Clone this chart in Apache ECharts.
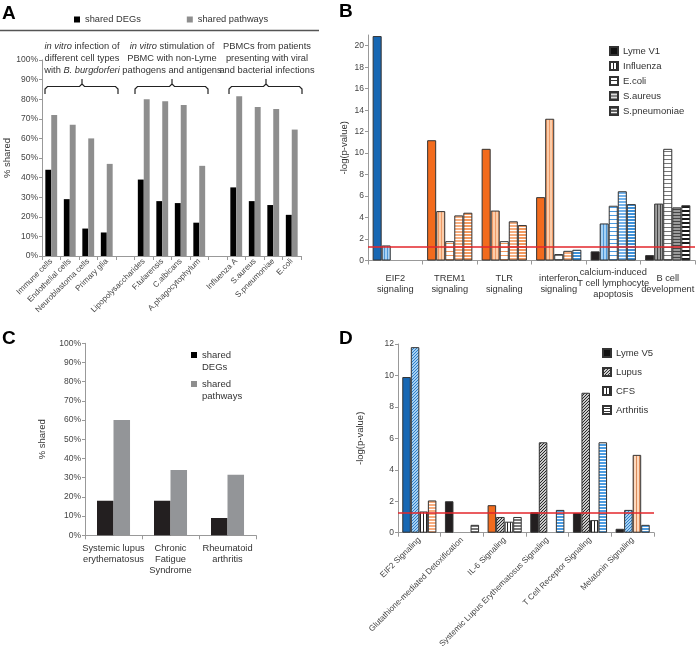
<!DOCTYPE html>
<html><head><meta charset="utf-8">
<script src="https://cdn.jsdelivr.net/npm/echarts@6/dist/echarts.min.js"></script>
<style>html,body{margin:0;padding:0;background:#fff}#c{width:696px;height:650px}</style>
</head><body><div id="c"></div>
<script>
// ---------------- DATA ----------------
// Panel A
const aCategories = ['Immune cells','Endothelial cells','Neuroblastoma cells','Primary glia','',
  'Lipopolysaccharides','F.tularensis','C.albicans','A.phagocytophylum','',
  'Influenza A','S.aureus','S.pneumoniae','E.coli'];
const aSharedDEGs     = [44, 29, 14, 12, null, 39, 28, 27, 17, null, 35, 28, 26, 21];
const aSharedPathways = [72, 67, 60, 47, null, 80, 79, 77, 46, null, 81.5, 76, 75, 64.5];

// Panel B
const bCategories = ['EIF2\nsignaling','TREM1\nsignaling','TLR\nsignaling','interferon\nsignaling',
  'calcium-induced\nT cell lymphocyte\napoptosis','B cell\ndevelopment'];
const bSeriesNames = ['Lyme V1','Influenza','E.coli','S.aureus','S.pneumoniae'];
const bLymeV1      = [20.9, 11.2, 10.4, 5.9, 0.85, 0.5];
const bInfluenza   = [1.4, 4.6, 4.65, 13.2, 3.45, 5.3];
const bEcoli       = [null, 1.8, 1.8, 0.6, 5.1, 10.4];
const bSaureus     = [null, 4.2, 3.65, 0.9, 6.45, 4.95];
const bSpneumoniae = [null, 4.45, 3.3, 1.0, 5.25, 5.15];
// direction of regulation: u = up (orange), d = down (blue), n = none (grey/black)
const bDirLymeV1      = ['d','u','u','u','n','n'];
const bDirInfluenza   = ['d','u','u','u','d','n'];
const bDirEcoli       = ['d','u','u','n','d','n'];
const bDirSaureus     = ['d','u','u','u','d','n'];
const bDirSpneumoniae = ['d','u','u','d','d','n'];
const pThreshold = 1.3;

// Panel C
const cCategories = ['Systemic lupus\nerythematosus','Chronic\nFatigue\nSyndrome','Rheumatoid\narthritis'];
const cSharedDEGs     = [18, 18, 9];
const cSharedPathways = [60, 34, 31.5];

// Panel D
const dCategories = ['EIF2 Signaling','Glutathione-mediated Detoxification','IL-6 Signaling',
  'Systemic Lupus Erythematosus Signaling','T Cell Receptor Signaling','Melatonin Signaling'];
const dSeriesNames = ['Lyme V5','Lupus','CFS','Arthritis'];
const dLymeV5    = [9.9, 2.0, 1.75, 1.3, 1.25, 0.25];
const dLupus     = [11.8, null, 1.0, 5.75, 8.9, 1.45];
const dCFS       = [1.35, null, 0.7, null, 0.8, 4.95];
const dArthritis = [2.05, 0.5, 1.0, 1.45, 5.75, 0.5];
const dDirLymeV5    = ['d','n','u','n','n','n'];
const dDirLupus     = ['d','n','n','n','n','d'];
const dDirCFS       = ['n','n','n','n','n','u'];
const dDirArthritis = ['u','n','n','d','d','d'];

// ---------------- STYLES ----------------
const FONT = 'Liberation Sans, Arial, Helvetica, sans-serif';
function mk(w, h, draw) {
  const c = document.createElement('canvas'); c.width = w; c.height = h;
  draw(c.getContext('2d'));
  return { image: c, repeat: 'repeat' };
}
function vert(bg, line) { return mk(3, 1, g => { g.fillStyle = bg; g.fillRect(0,0,3,1); g.fillStyle = line; g.fillRect(0,0,1,1); }); }
function horiz(bg, line, period, lw) { return mk(1, period, g => { g.fillStyle = bg; g.fillRect(0,0,1,period); g.fillStyle = line; g.fillRect(0,period-lw,1,lw); }); }
function diag(bg, line, n) { return mk(n, n, g => { g.fillStyle = bg; g.fillRect(0,0,n,n); g.fillStyle = line; for (let i=0;i<n;i++) g.fillRect(i,n-1-i,1,1); }); }

const stylesB = {
  'Lyme V1':      { d: '#1767b3', u: '#f26b1d', n: '#231f20' },
  'Influenza':    { d: vert('#a8d2f4','#4f97d6'), u: vert('#fbcdaa','#ee9a66'), n: vert('#a0a0a0','#444') },
  'E.coli':       { d: horiz('#fff','#4a9ae0',4,1), u: horiz('#fff','#f3985e',4,1), n: horiz('#fff','#777',4,1) },
  'S.aureus':     { d: horiz('#74b2ea','#fff',3,1), u: horiz('#f6ae80','#fff',3,1), n: horiz('#9a9a9a','#444',3,1) },
  'S.pneumoniae': { d: horiz('#3f92da','#fff',3,1), u: horiz('#f39a60','#fff',3,1), n: horiz('#fff','#1a1a1a',4,2) }
};
const legendB = {
  'Lyme V1': '#111', 'Influenza': vert('#fff','#222'), 'E.coli': horiz('#fff','#333',4,1),
  'S.aureus': horiz('#888','#ddd',3,1), 'S.pneumoniae': horiz('#666','#eee',3,1)
};
const stylesD = {
  'Lyme V5':   { d: '#1767b3', u: '#f26b1d', n: '#231f20' },
  'Lupus':     { d: diag('#a6d0f2','#2f7fc8',3), u: diag('#fbcdaa','#e07a3a',3), n: diag('#c8c8c8','#2a2a2a',3) },
  'CFS':       { d: vert('#bfe0f8','#4f97d6'), u: vert('#fcd9be','#d98a5a'), n: vert('#fff','#222') },
  'Arthritis': { d: horiz('#4d9de2','#fff',3,1), u: horiz('#f8ad7f','#fff',3,1), n: horiz('#7a7a7a','#fff',3,1) }
};
const legendD = {
  'Lyme V5': '#111', 'Lupus': diag('#ccc','#333',3), 'CFS': vert('#fff','#222'), 'Arthritis': horiz('#fff','#333',3,1)
};

function buildData(values, dirs, styleMap) {
  return values.map((v, i) => v == null ? '-' : { value: v, itemStyle: { color: styleMap[dirs[i]] } });
}

const axisLineGrey = { show: true, lineStyle: { color: '#999', width: 1 } };
const tickGrey = { show: true, length: 4, lineStyle: { color: '#999' } };
const labelBase = { color: '#444', fontFamily: FONT };

function catAxis(grid, data, label) {
  return { type: 'category', gridIndex: grid, data: data, axisLine: axisLineGrey, axisTick: tickGrey,
    axisLabel: Object.assign({ interval: 0 }, labelBase, label), splitLine: { show: false } };
}
function valAxis(grid, min, max, interval, name, nameGap, fmt, extraLabel) {
  return { type: 'value', gridIndex: grid, min, max, interval,
    name, nameLocation: 'middle', nameRotate: 90, nameGap,
    nameTextStyle: { fontSize: 9.5, color: '#333', fontFamily: FONT },
    axisLine: axisLineGrey, axisTick: { show: true, length: 3, lineStyle: { color: '#999' } },
    axisLabel: Object.assign({ fontSize: 8.5, margin: 4, formatter: fmt }, labelBase, extraLabel || {}),
    splitLine: { show: false } };
}

const bValues = [bLymeV1, bInfluenza, bEcoli, bSaureus, bSpneumoniae];
const bDirs = [bDirLymeV1, bDirInfluenza, bDirEcoli, bDirSaureus, bDirSpneumoniae];
const dValues = [dLymeV5, dLupus, dCFS, dArthritis];
const dDirs = [dDirLymeV5, dDirLupus, dDirCFS, dDirArthritis];

const redLine = { silent: true, symbol: 'none', label: { show: false },
  lineStyle: { color: '#e3262b', width: 1.5, type: 'solid' }, data: [{ yAxis: pThreshold }] };

const series = [];
// A
series.push({ name: 'shared DEGs', type: 'bar', xAxisIndex: 0, yAxisIndex: 0, data: aSharedDEGs,
  itemStyle: { color: '#000' }, barGap: '0%', barCategoryGap: '36%' });
series.push({ name: 'shared pathways', type: 'bar', xAxisIndex: 0, yAxisIndex: 0, data: aSharedPathways,
  itemStyle: { color: '#8e8e8e' }, barGap: '0%', barCategoryGap: '36%' });
// B
bSeriesNames.forEach((n, k) => {
  series.push({ name: n, type: 'bar', xAxisIndex: 1, yAxisIndex: 1,
    data: buildData(bValues[k], bDirs[k], stylesB[n]),
    itemStyle: { color: legendB[n], borderColor: '#333', borderWidth: 1 },
    barGap: '0%', barCategoryGap: '17%', markLine: k === 0 ? redLine : undefined });
});
// C
series.push({ name: 'shared DEGs', type: 'bar', xAxisIndex: 2, yAxisIndex: 2, data: cSharedDEGs,
  itemStyle: { color: '#231f20' }, barGap: '0%', barCategoryGap: '42%' });
series.push({ name: 'shared pathways', type: 'bar', xAxisIndex: 2, yAxisIndex: 2, data: cSharedPathways,
  itemStyle: { color: '#939598' }, barGap: '0%', barCategoryGap: '42%' });
// D
dSeriesNames.forEach((n, k) => {
  series.push({ name: n, type: 'bar', xAxisIndex: 3, yAxisIndex: 3,
    data: buildData(dValues[k], dDirs[k], stylesD[n]),
    itemStyle: { color: legendD[n], borderColor: '#333', borderWidth: 1 },
    barGap: '0%', barCategoryGap: '20%', markLine: k === 0 ? redLine : undefined });
});

const txt = (s) => Object.assign({ fontFamily: FONT, fontSize: 9, fill: '#333' }, s);

function bracketPts(x1, xc, x2) {
  return [[x1,94],[x1,89],[x1+2.5,86.5],[xc-2.5,86.5],[xc,84],[xc,79],[xc,84],[xc+2.5,86.5],[x2-2.5,86.5],[x2,89],[x2,94]];
}
const italicRich = { i: { fontStyle: 'italic', fontFamily: FONT, fontSize: 9.3, fill: '#333' } };
const groupTexts = [
  { x: 82,  text: '{i|in vitro} infection of\ndifferent cell types\nwith {i|B. burgdorferi}' },
  { x: 172, text: '{i|in vitro} stimulation of\nPBMC with non-Lyme\npathogens and antigens' },
  { x: 267, text: 'PBMCs from patients\npresenting with viral\nand bacterial infections' }
];
const brackets = [[45,82,118],[135,172,208],[229,266,302]];

const graphic = [
  { type: 'text', x: 2, y: 4, style: txt({ text: 'A', fontSize: 19, fontWeight: 'bold', fill: '#000' }) },
  { type: 'text', x: 339, y: 2, style: txt({ text: 'B', fontSize: 19, fontWeight: 'bold', fill: '#000' }) },
  { type: 'text', x: 2, y: 329, style: txt({ text: 'C', fontSize: 19, fontWeight: 'bold', fill: '#000' }) },
  { type: 'text', x: 339, y: 329, style: txt({ text: 'D', fontSize: 19, fontWeight: 'bold', fill: '#000' }) },
  { type: 'line', shape: { x1: 0, y1: 30.5, x2: 319, y2: 30.5 }, style: { stroke: '#555', lineWidth: 1.5 } }
];
groupTexts.forEach(g => graphic.push({ type: 'text', x: g.x, y: 40,
  style: txt({ text: g.text, fontSize: 9.3, align: 'center', verticalAlign: 'top', lineHeight: 12.3, rich: italicRich }) }));
brackets.forEach(b => graphic.push({ type: 'polyline', shape: { points: bracketPts(b[0], b[1], b[2]) },
  style: { stroke: '#222', lineWidth: 1.2, fill: null } }));

const legendText = { fontSize: 9.5, color: '#333', fontFamily: FONT };
const option = {
  animation: false,
  backgroundColor: '#fff',
  textStyle: { fontFamily: FONT },
  grid: [
    { left: 42, top: 60, right: 395, bottom: 394, outerBoundsMode: 'none' },
    { left: 368, top: 35, right: 1, bottom: 389.5, outerBoundsMode: 'none' },
    { left: 85, top: 343.3, right: 440, bottom: 114.7, outerBoundsMode: 'none' },
    { left: 398, top: 344, right: 42, bottom: 117.3, outerBoundsMode: 'none' }
  ],
  xAxis: [
    catAxis(0, aCategories, { fontSize: 8, rotate: 45, margin: 4 }),
    catAxis(1, bCategories, { fontSize: 9.3, color: '#333', lineHeight: 11, verticalAlign: 'middle', margin: 23 }),
    catAxis(2, cCategories, { fontSize: 9.3, color: '#333', lineHeight: 11.3, margin: 7 }),
    catAxis(3, dCategories, { fontSize: 8.2, rotate: 45, margin: 6 })
  ],
  yAxis: [
    valAxis(0, 0, 100, 10, '% shared', 29, '{value}%'),
    valAxis(1, 0, 21, 2, '-log(p-value)', 18.5, '{value}', { showMaxLabel: false }),
    valAxis(2, 0, 100, 10, '% shared', 37.5, '{value}%'),
    valAxis(3, 0, 12, 2, '-log(p-value)', 33, '{value}')
  ],
  legend: [
    { data: ['shared DEGs','shared pathways'], left: 74, top: 15, padding: 0, icon: 'rect',
      itemWidth: 6, itemHeight: 6, itemGap: 46, textStyle: { fontSize: 9.3, color: '#333', fontFamily: FONT } },
    { data: bSeriesNames, orient: 'vertical', left: 609, top: 46, padding: 0, icon: 'rect',
      itemWidth: 8, itemHeight: 8, itemGap: 5, textStyle: legendText },
    { data: ['shared DEGs'], left: 191, top: 337, padding: 0, icon: 'rect', itemWidth: 6, itemHeight: 6,
      formatter: () => '\nshared\nDEGs', textStyle: Object.assign({ lineHeight: 12 }, legendText) },
    { data: ['shared pathways'], left: 191, top: 366, padding: 0, icon: 'rect', itemWidth: 6, itemHeight: 6,
      formatter: () => '\nshared\npathways', textStyle: Object.assign({ lineHeight: 12 }, legendText) },
    { data: dSeriesNames, orient: 'vertical', left: 602, top: 348, padding: 0, icon: 'rect',
      itemWidth: 8, itemHeight: 8, itemGap: 9, textStyle: legendText }
  ],
  graphic: graphic,
  series: series
};
const chart = echarts.init(document.getElementById('c'), null, { renderer: 'canvas' });
chart.setOption(option);
</script></body></html>
